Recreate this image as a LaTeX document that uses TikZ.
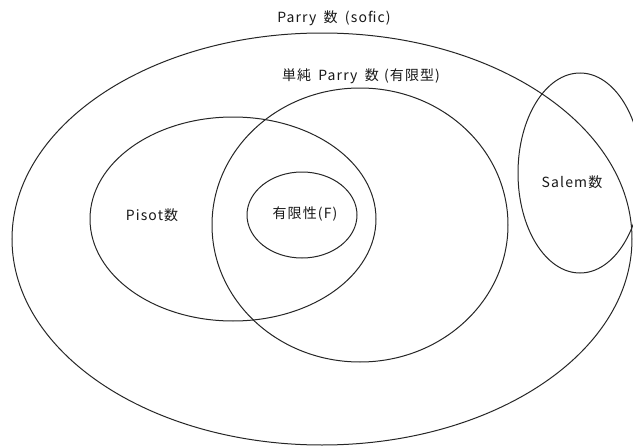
\documentclass[tikz,border=0pt]{standalone}
\usepackage{fontspec}
\setmainfont{Noto Sans CJK JP}[LetterSpace=8]
\usetikzlibrary{shapes.geometric}
\tikzset{
  setbox/.style={draw=black!85, line width=1pt, ellipse, inner sep=0pt, outer sep=0pt},
  lbl/.style={font=\fontsize{14}{16}\selectfont, text=black!90, inner sep=0pt}
}
\begin{document}
\begin{tikzpicture}[x=1pt,y=-1pt]
\useasboundingbox (0,0) rectangle (633,447);
\clip (0,0) rectangle (633,447);
\fill[white] (0,0) rectangle (633,447);
\node[setbox, minimum width=620pt, minimum height=412pt] (parry) at (322,239) {};
\node[setbox, minimum width=296pt, minimum height=274pt] (simple) at (360,225) {};
\node[setbox, minimum width=286pt, minimum height=204pt] (pisot) at (233,219) {};
\node[setbox, minimum width=110pt, minimum height=86pt] (finite) at (302,215) {};
\node[setbox, minimum width=124pt, minimum height=200pt] (salem) at (580,173) {};
\node[lbl] (tparry) at (334,18) {Parry\hspace{3pt} 数\hspace{3pt} (sofic)};
\node[lbl] (tsimple) at (361,76) {単純\hspace{3pt} Parry\hspace{3pt} 数\hspace{1pt} (有限型)};
\node[lbl] (tpisot) at (152,215) {Pisot数};
\node[lbl] (tfinite) at (305,214) {有限性(F)};
\node[lbl] (tsalem) at (572,182) {Salem数};
\end{tikzpicture}
\end{document}
